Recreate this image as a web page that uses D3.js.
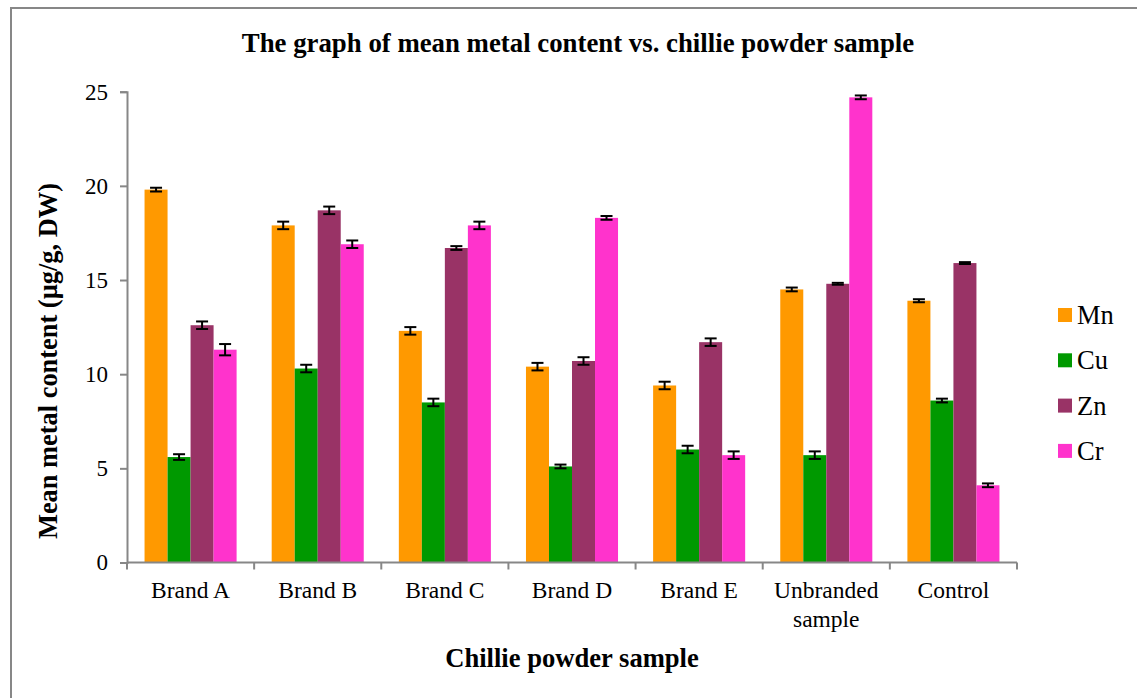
<!DOCTYPE html>
<html>
<head>
<meta charset="utf-8">
<script src="https://cdn.jsdelivr.net/npm/d3@7"></script>
<style>
  html, body { margin: 0; padding: 0; background: #fff; }
  svg { display: block; font-family: "Liberation Serif", "Times New Roman", serif; }
</style>
</head>
<body>
<svg id="chart" width="1137" height="698"></svg>
<script>
const categories = ["Brand A", "Brand B", "Brand C", "Brand D", "Brand E", "Unbranded sample", "Control"];
const seriesNames = ["Mn", "Cu", "Zn", "Cr"];
const seriesColors = ["#FF9900", "#009900", "#993366", "#FF33CC"];
const mnValues = [19.8, 17.9, 12.3, 10.4, 9.4, 14.5, 13.9];
const cuValues = [5.6, 10.3, 8.5, 5.1, 6.0, 5.7, 8.6];
const znValues = [12.6, 18.7, 16.7, 10.7, 11.7, 14.8, 15.9];
const crValues = [11.3, 16.9, 17.9, 18.3, 5.7, 24.7, 4.1];
const mnErrors = [0.1, 0.2, 0.2, 0.2, 0.2, 0.1, 0.08];
const cuErrors = [0.15, 0.2, 0.2, 0.1, 0.2, 0.2, 0.1];
const znErrors = [0.2, 0.2, 0.1, 0.2, 0.2, 0.05, 0.05];
const crErrors = [0.3, 0.2, 0.2, 0.1, 0.2, 0.1, 0.1];
const yTicks = [0, 5, 10, 15, 20, 25];

const seriesValues = [mnValues, cuValues, znValues, crValues];
const seriesErrors = [mnErrors, cuErrors, znErrors, crErrors];

const svg = d3.select("#chart");
const axisColor = "#878787";

// outer frame
svg.append("rect").attr("x", 11).attr("y", 8).attr("width", 1140).attr("height", 700)
  .attr("fill", "none").attr("stroke", axisColor).attr("stroke-width", 2);

const plotLeft = 127, plotRight = 1017, plotTop = 91.7, plotBottom = 562.5;

const x0 = d3.scaleBand().domain(categories).range([plotLeft, plotRight]).paddingInner(0.276).paddingOuter(0.138);
const x1 = d3.scaleBand().domain(seriesNames).range([0, x0.bandwidth()]).padding(0);
const y = d3.scaleLinear().domain([0, 25]).range([plotBottom, plotTop]);

// bars
const groups = svg.append("g").selectAll("g").data(categories).join("g")
  .attr("transform", d => `translate(${x0(d)},0)`);

seriesNames.forEach((s, si) => {
  groups.append("rect")
    .attr("x", x1(s))
    .attr("y", (d, i) => y(seriesValues[si][i]))
    .attr("width", x1.bandwidth())
    .attr("height", (d, i) => y(0) - y(seriesValues[si][i]))
    .attr("fill", seriesColors[si]);
});

// error bars
seriesNames.forEach((s, si) => {
  groups.each(function(d, i) {
    const g = d3.select(this);
    const cx = x1(s) + x1.bandwidth() / 2;
    const v = seriesValues[si][i], e = seriesErrors[si][i];
    const yt = y(v + e), yb = y(v - e);
    g.append("line").attr("x1", cx).attr("x2", cx).attr("y1", yt).attr("y2", yb)
      .attr("stroke", "#000").attr("stroke-width", 2);
    g.append("line").attr("x1", cx - 6).attr("x2", cx + 6).attr("y1", yt).attr("y2", yt)
      .attr("stroke", "#000").attr("stroke-width", 2);
    g.append("line").attr("x1", cx - 6).attr("x2", cx + 6).attr("y1", yb).attr("y2", yb)
      .attr("stroke", "#000").attr("stroke-width", 2);
  });
});

// y axis
const yAxis = d3.axisLeft(y).tickValues(yTicks).tickSize(7).tickPadding(12);
const yg = svg.append("g").attr("transform", `translate(${plotLeft},0)`).call(yAxis);
yg.select(".domain").attr("stroke", axisColor).attr("stroke-width", 2);
yg.selectAll(".tick line").attr("stroke", axisColor).attr("stroke-width", 2);
yg.selectAll(".tick text").attr("font-size", 23).attr("font-family", "Liberation Serif").attr("fill", "#000");

// x axis
const xg = svg.append("g");
xg.append("line").attr("x1", plotLeft).attr("x2", plotRight).attr("y1", plotBottom).attr("y2", plotBottom)
  .attr("stroke", axisColor).attr("stroke-width", 2);
const boundaries = d3.range(categories.length + 1).map(i => plotLeft + i * x0.step());
xg.selectAll(".xt").data(boundaries).join("line")
  .attr("x1", d => d).attr("x2", d => d).attr("y1", plotBottom).attr("y2", plotBottom + 7)
  .attr("stroke", axisColor).attr("stroke-width", 2);

const catLabels = xg.selectAll(".cl").data(categories).join("text")
  .attr("text-anchor", "middle")
  .attr("font-size", 23.5)
  .attr("fill", "#000")
  .attr("x", d => x0(d) + x0.bandwidth() / 2)
  .attr("y", 598);
catLabels.each(function(d) {
  const t = d3.select(this);
  const parts = d === "Unbranded sample" ? ["Unbranded", "sample"] : [d];
  parts.forEach((p, k) => {
    t.append("tspan").attr("x", x0(d) + x0.bandwidth() / 2).attr("dy", k === 0 ? 0 : 29).text(p);
  });
});

// titles
svg.append("text").attr("x", 578).attr("y", 52).attr("text-anchor", "middle")
  .attr("font-size", 26.8).attr("font-weight", "bold").text("The graph of mean metal content vs. chillie powder sample");
svg.append("text").attr("x", 572).attr("y", 667).attr("text-anchor", "middle")
  .attr("font-size", 26.6).attr("font-weight", "bold").text("Chillie powder sample");
svg.append("text").attr("transform", "translate(57,361) rotate(-90)").attr("text-anchor", "middle")
  .attr("font-size", 26.4).attr("font-weight", "bold").text("Mean metal content (µg/g, DW)");

// legend
const legend = svg.append("g").selectAll("g").data(seriesNames).join("g")
  .attr("transform", (d, i) => `translate(1058,${315 + i * 45.3})`);
legend.append("rect").attr("x", 0).attr("y", -7).attr("width", 14).attr("height", 14)
  .attr("fill", (d, i) => seriesColors[i]);
legend.append("text").attr("x", 19).attr("y", 9).attr("font-size", 26.5).attr("fill", "#000").text(d => d);
</script>
</body>
</html>
